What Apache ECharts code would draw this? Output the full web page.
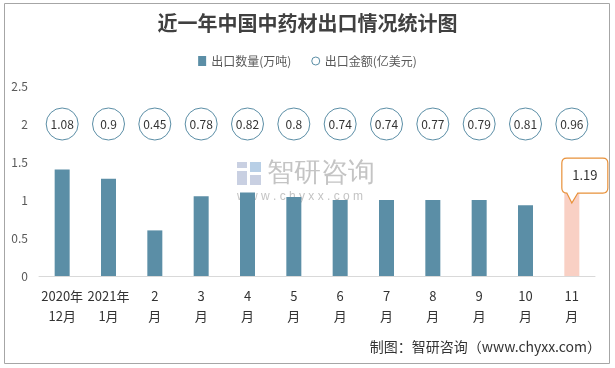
<!DOCTYPE html>
<html>
<head>
<meta charset="utf-8">
<script src="https://cdn.jsdelivr.net/npm/echarts@6/dist/echarts.min.js"></script>
<style>html,body{margin:0;padding:0;background:#fff}#c{width:615px;height:368px}</style>
</head>
<body>
<div id="c"></div>
<script>
var categories = ['2020年\n12月','2021年\n1月','2\n月','3\n月','4\n月','5\n月','6\n月','7\n月','8\n月','9\n月','10\n月','11\n月'];
var quantity = [1.40, 1.28, 0.60, 1.05, 1.10, 1.04, 1.00, 1.00, 1.00, 1.00, 0.93, 1.19];
var amount = [1.08, 0.9, 0.45, 0.78, 0.82, 0.8, 0.74, 0.74, 0.77, 0.79, 0.81, 0.96];
var yTicks = [0, 0.5, 1, 1.5, 2, 2.5];
var LABEL_ROW = 2;

var FONT = '"Noto Sans CJK SC", "Microsoft YaHei", sans-serif';
var BAR = '#5b8ea6';
var HILITE = '#f9d0c4';
var last = quantity.length - 1;

var chart = echarts.init(document.getElementById('c'));
chart.setOption({
  backgroundColor: '#fff',
  animation: false,
  textStyle: { fontFamily: FONT },
  title: {
    text: '近一年中国中药材出口情况统计图',
    left: 'center', top: 8,
    textStyle: { fontSize: 20, fontWeight: 'bold', color: '#404040', fontFamily: FONT }
  },
  legend: {
    top: 50, left: 'center',
    itemWidth: 8, itemHeight: 10, itemGap: 20,
    textStyle: { fontSize: 12, color: '#595959' },
    data: [
      { name: '出口数量(万吨)', icon: 'rect' },
      { name: '出口金额(亿美元)', icon: 'circle', itemStyle: { color: '#fff', borderColor: BAR, borderWidth: 1 } }
    ]
  },
  grid: { left: 39, right: 20, top: 86, bottom: 92 },
  xAxis: {
    type: 'category',
    data: categories,
    axisLine: { lineStyle: { color: '#d9d9d9' } },
    axisTick: { show: false },
    axisLabel: { interval: 0, fontSize: 13, color: '#333', lineHeight: 20, margin: 10 }
  },
  yAxis: {
    type: 'value', min: yTicks[0], max: yTicks[yTicks.length - 1], interval: 0.5,
    axisLine: { show: false }, axisTick: { show: false },
    splitLine: { show: false },
    axisLabel: { fontSize: 12, color: '#595959', margin: 11 }
  },
  graphic: [
    { type: 'rect', shape: { x: 4.5, y: 3.5, width: 605, height: 360 }, style: { fill: 'none', stroke: '#a6a6a6', lineWidth: 1 }, silent: true, z: -1 },
    { type: 'group', left: 237, top: 160, z: 0, silent: true, children: [
      { type: 'rect', shape: { x: 0, y: 2, width: 10, height: 6 }, style: { fill: '#c9d0e2' } },
      { type: 'rect', shape: { x: 0, y: 11, width: 10, height: 14 }, style: { fill: '#c9d0e2' } },
      { type: 'rect', shape: { x: 13, y: 2, width: 11, height: 10 }, style: { fill: '#b8cfe6' } },
      { type: 'rect', shape: { x: 13, y: 15, width: 11, height: 10 }, style: { fill: '#c9d0e2' } },
      { type: 'text', style: { x: 30, y: 0, text: '智研咨询', fontSize: 27, fill: '#c4c4c4', font: '27px ' + FONT } },
      { type: 'text', style: { x: 0, y: 31, text: 'w w w . c h y x x . c o m', fontSize: 12, fill: '#c4c4c4', font: '12px ' + FONT } }
    ]},
    { type: 'text', right: 14, top: 340, silent: true,
      style: { text: '制图：智研咨询（www.chyxx.com）', fill: '#333', font: '14px ' + FONT } }
  ],
  series: [
    {
      name: '出口数量(万吨)', type: 'bar', barWidth: 15,
      itemStyle: { color: BAR },
      data: quantity.map(function (v, i) {
        return i === last ? { value: v, itemStyle: { color: HILITE } } : v;
      }),
      markPoint: {
        symbol: 'path://M5,0 L41,0 Q46,0 46,5 L46,30 Q46,35 41,35 L16,35 L10,45 L5,35 Q0,35 0,30 L0,5 Q0,0 5,0 Z',
        symbolSize: [46, 45],
        symbolOffset: [13, -5],
        itemStyle: { color: '#fff', borderColor: '#e8913a', borderWidth: 1.2 },
        label: { show: true, position: 'inside', offset: [0, -5], color: '#333', fontSize: 13,
          formatter: function (p) { return p.value; } },
        data: [{ coord: [last, quantity[last]], value: quantity[last] }]
      }
    },
    {
      name: '出口金额(亿美元)', type: 'scatter', symbol: 'circle', symbolSize: 32,
      itemStyle: { color: '#fff', borderColor: BAR, borderWidth: 1, opacity: 1 },
      label: { show: true, position: 'inside', color: '#333', fontSize: 12,
        formatter: function (p) { return p.value[2]; } },
      data: amount.map(function (v, i) { return [i, LABEL_ROW, v]; })
    }
  ]
});
</script>
</body>
</html>
